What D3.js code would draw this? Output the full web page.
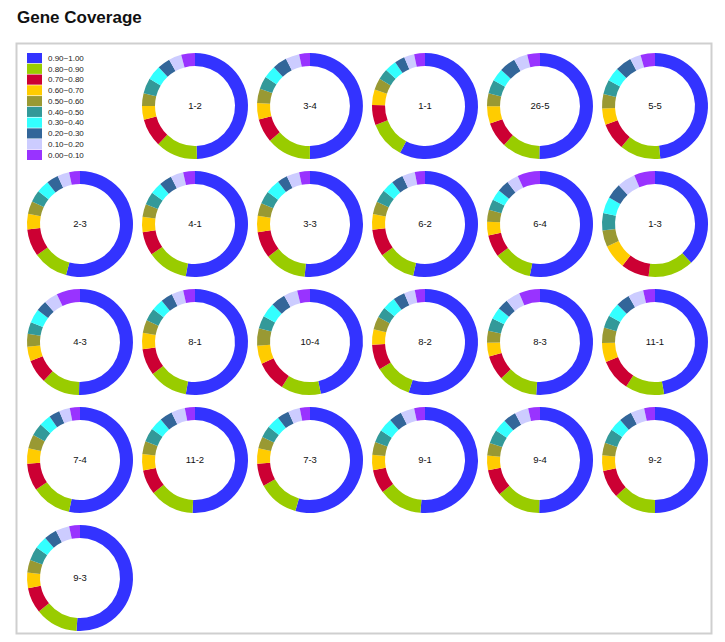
<!DOCTYPE html>
<html>
<head>
<meta charset="utf-8">
<script src="https://cdn.jsdelivr.net/npm/d3@7"></script>
<style>
  html, body { margin: 0; padding: 0; background: #fff; }
  svg { display: block; font-family: "Liberation Sans", Arial, sans-serif; }
</style>
</head>
<body>
<svg id="chart" width="725" height="642"></svg>
<script>
// ---- data ----
const bins = ["0.90~1.00", "0.80~0.90", "0.70~0.80", "0.60~0.70", "0.50~0.60",
              "0.40~0.50", "0.30~0.40", "0.20~0.30", "0.10~0.20", "0.00~0.10"];
const binColors = ["#3333ff", "#99cc00", "#cc0033", "#ffcc00", "#999933",
                   "#339999", "#33ffff", "#336699", "#ccccff", "#9933ff"];
const samples = ["1-2", "3-4", "1-1", "26-5", "5-5",
                 "2-3", "4-1", "3-3", "6-2", "6-4", "1-3",
                 "4-3", "8-1", "10-4", "8-2", "8-3", "11-1",
                 "7-4", "11-2", "7-3", "9-1", "9-4", "9-2",
                 "9-3"];
// percentage of genes in each coverage bin (order as in bins)
const coverage = [
  [49.4, 12.8, 8.6, 4.2, 3.9, 4.7, 4.4, 3.9, 3.9, 4.2],
  [50.0, 13.6, 7.2, 5.0, 4.4, 3.9, 3.9, 4.4, 4.2, 3.3],
  [57.8, 11.4, 6.1, 4.7, 3.6, 3.3, 3.6, 3.1, 3.1, 3.3],
  [50.3, 11.7, 7.8, 5.3, 3.9, 4.2, 3.9, 5.0, 4.2, 3.9],
  [48.3, 12.5, 8.3, 5.0, 4.4, 4.4, 4.2, 5.0, 3.3, 4.4],
  [54.2, 10.8, 8.3, 4.7, 3.9, 3.6, 3.9, 3.6, 3.6, 3.3],
  [52.8, 12.5, 7.2, 4.7, 3.9, 3.9, 3.6, 3.9, 3.9, 3.6],
  [51.7, 12.8, 8.1, 5.0, 3.9, 3.9, 4.4, 3.1, 3.9, 3.3],
  [53.6, 11.4, 8.3, 4.7, 3.9, 3.9, 3.6, 3.6, 3.9, 3.1],
  [53.1, 11.7, 6.7, 4.2, 3.6, 3.3, 3.3, 3.6, 3.6, 6.9],
  [38.1, 13.9, 8.6, 7.5, 5.0, 5.3, 5.0, 4.7, 5.6, 6.4],
  [50.3, 11.7, 7.2, 4.4, 3.9, 3.6, 4.2, 3.3, 4.2, 7.2],
  [52.8, 11.9, 8.1, 5.0, 3.9, 3.9, 3.6, 3.6, 3.6, 3.6],
  [46.7, 12.2, 9.4, 5.6, 5.3, 3.9, 4.4, 4.4, 4.2, 3.9],
  [55.0, 11.4, 7.8, 4.7, 3.9, 3.3, 3.9, 3.6, 3.3, 3.1],
  [51.1, 11.9, 7.5, 4.2, 3.6, 3.9, 3.6, 3.3, 4.4, 6.4],
  [47.2, 11.9, 9.7, 5.8, 4.7, 3.9, 4.2, 4.2, 4.7, 3.6],
  [53.3, 12.2, 8.3, 4.7, 4.2, 3.9, 3.6, 3.3, 3.3, 3.1],
  [50.8, 13.6, 7.5, 5.0, 3.9, 4.2, 3.9, 3.9, 4.2, 3.1],
  [54.4, 12.5, 6.9, 4.7, 3.6, 3.6, 3.9, 3.6, 3.6, 3.1],
  [51.4, 13.3, 7.2, 4.7, 3.9, 3.9, 4.2, 3.9, 4.2, 3.3],
  [50.3, 13.6, 8.1, 4.4, 3.9, 4.2, 3.9, 3.9, 4.2, 3.6],
  [50.0, 13.1, 8.6, 4.7, 3.9, 4.4, 3.9, 3.9, 4.2, 3.3],
  [51.1, 13.1, 7.8, 4.7, 3.9, 4.2, 3.9, 3.9, 4.2, 3.3]
];

// ---- layout ----
const svg = d3.select("#chart");
const color = d3.scaleOrdinal().domain(bins).range(binColors);

svg.append("text")
  .attr("x", 17).attr("y", 23)
  .attr("font-size", 17).attr("font-weight", "bold")
  .attr("fill", "#111")
  .text("Gene Coverage");

svg.append("rect")
  .attr("x", 16.5).attr("y", 43.5)
  .attr("width", 695).attr("height", 590)
  .attr("fill", "#fff")
  .attr("stroke", "#cfcfcf").attr("stroke-width", 2);

// legend
const legStep = 10.7;
const legY = d3.scaleBand().domain(bins).range([53, 53 + legStep * bins.length]).paddingInner(0.06);
const legend = svg.append("g");
legend.selectAll("rect").data(bins).join("rect")
  .attr("x", 27).attr("y", d => legY(d))
  .attr("width", 15).attr("height", legY.bandwidth())
  .attr("fill", d => color(d));
legend.selectAll("text").data(bins).join("text")
  .attr("x", 48).attr("y", d => legY(d) + legY.bandwidth() / 2)
  .attr("dy", "0.35em")
  .attr("font-size", 8).attr("fill", "#222")
  .text(d => d);

// donuts
const cols = 6;
const colX = d3.scaleLinear().domain([0, 1]).range([80, 195]);
const rowY = d3.scaleLinear().domain([0, 1]).range([106, 224]);
const pie = d3.pie().sort(null).value(d => d.v);
const arc = d3.arc().innerRadius(40).outerRadius(53);

samples.forEach((name, i) => {
  const slot = i + 1;
  const c = slot % cols, r = Math.floor(slot / cols);
  const g = svg.append("g")
    .attr("transform", `translate(${colX(c)},${rowY(r)})`);
  const data = coverage[i].map((v, k) => ({ bin: bins[k], v }));
  g.selectAll("path").data(pie(data)).join("path")
    .attr("d", arc)
    .attr("fill", d => color(d.data.bin));
  g.append("text")
    .attr("text-anchor", "middle").attr("dy", "0.35em")
    .attr("font-size", 9.5).attr("fill", "#111")
    .text(name);
});
</script>
</body>
</html>
